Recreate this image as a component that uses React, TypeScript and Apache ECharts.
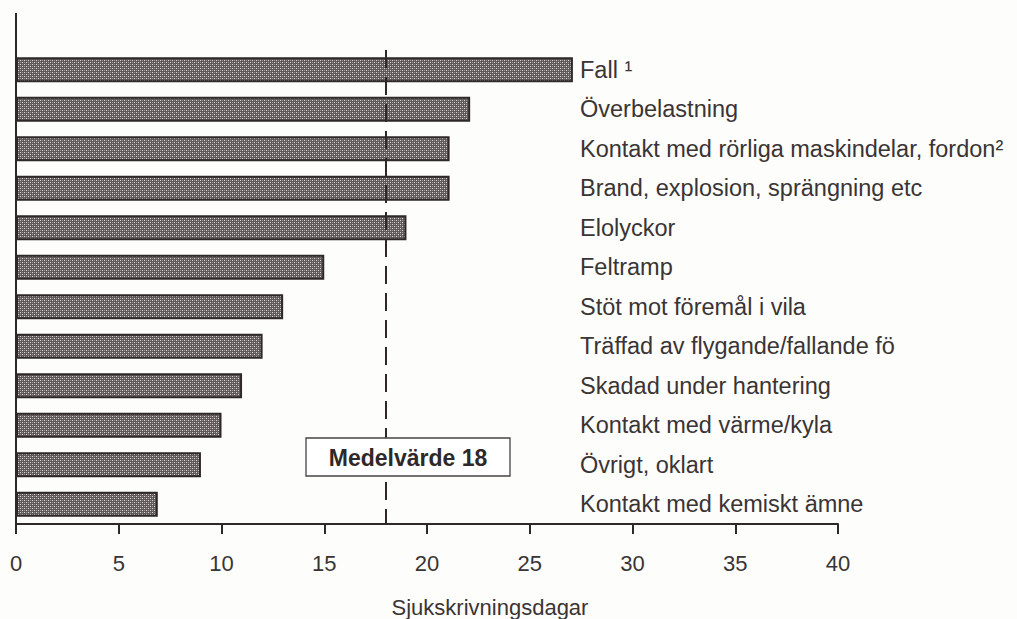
import React, { useEffect, useRef } from "react";
import * as echarts from "echarts";

const categories: string[] = [
  "Fall ¹",
  "Överbelastning",
  "Kontakt med rörliga maskindelar, fordon²",
  "Brand, explosion, sprängning etc",
  "Elolyckor",
  "Feltramp",
  "Stöt mot föremål i vila",
  "Träffad av flygande/fallande fö",
  "Skadad under hantering",
  "Kontakt med värme/kyla",
  "Övrigt, oklart",
  "Kontakt med kemiskt ämne",
];

const sickDays: number[] = [27.1, 22.1, 21.1, 21.1, 19.0, 15.0, 13.0, 12.0, 11.0, 10.0, 9.0, 6.9];

const meanValue = 18;
const xTicks = { min: 0, max: 40, interval: 5 };
const axisTitle = "Sjukskrivningsdagar";
const meanLabel = `Medelvärde ${meanValue}`;

const INK = "#2f2828";
const TEXT = "#3a3434";
const FONT = "'Liberation Sans', Arial, Helvetica, sans-serif";

function makePattern(): HTMLCanvasElement {
  const c = document.createElement("canvas");
  c.width = 4;
  c.height = 4;
  const ctx = c.getContext("2d")!;
  ctx.fillStyle = "#5f5959";
  ctx.fillRect(0, 0, 4, 4);
  ctx.fillStyle = "#dcdada";
  ctx.fillRect(0, 0, 1, 1);
  ctx.fillRect(2, 2, 1, 1);
  ctx.fillStyle = "#9a9696";
  ctx.fillRect(2, 0, 1, 1);
  ctx.fillRect(0, 2, 1, 1);
  return c;
}

export default function App() {
  const ref = useRef<HTMLDivElement>(null);

  useEffect(() => {
    if (!ref.current) return;
    const chart = echarts.init(ref.current, null, { renderer: "svg" });
    const pattern = makePattern();

    chart.setOption({
      animation: false,
      backgroundColor: "#fdfdfc",
      grid: { left: 16, right: 179, top: 50, bottom: 95, containLabel: false },
      xAxis: {
        type: "value",
        min: xTicks.min,
        max: xTicks.max,
        interval: xTicks.interval,
        axisLine: { show: true, lineStyle: { color: INK, width: 2 } },
        axisTick: { show: true, length: 10, lineStyle: { color: INK, width: 2 } },
        splitLine: { show: false },
        axisLabel: { color: TEXT, fontSize: 22, fontFamily: FONT, margin: 28 },
      },
      yAxis: {
        type: "category",
        data: categories,
        inverse: true,
        axisLine: { show: true, lineStyle: { color: INK, width: 2 } },
        axisTick: { show: false },
        splitLine: { show: false },
        axisLabel: {
          inside: true,
          margin: 564,
          align: "left",
          color: TEXT,
          fontSize: 23.5,
          fontFamily: FONT,
        },
      },
      series: [
        {
          type: "bar",
          data: sickDays,
          barWidth: 25,
          itemStyle: {
            color: { image: pattern, repeat: "repeat" },
            borderColor: INK,
            borderWidth: 2,
          },
          markLine: {
            silent: true,
            symbol: "none",
            label: { show: false },
            lineStyle: { color: INK, width: 2, type: [18, 9] },
            data: [{ xAxis: meanValue }],
          },
          z: 2,
        },
      ],
      graphic: [
        {
          type: "line",
          shape: { x1: 16, y1: 13, x2: 16, y2: 51 },
          style: { stroke: INK, lineWidth: 2 },
          z: 5,
        },
        {
          type: "group",
          z: 10,
          children: [
            {
              type: "rect",
              shape: { x: 306, y: 438, width: 204, height: 38 },
              style: { fill: "#ffffff", stroke: "#4a4343", lineWidth: 1.3 },
              z: 10,
            },
            {
              type: "text",
              x: 408,
              y: 458,
              style: {
                text: meanLabel,
                fill: "#2e2828",
                font: `bold 23px ${FONT}`,
                align: "center",
                verticalAlign: "middle",
              },
              z: 11,
            },
          ],
        },
        {
          type: "text",
          x: 490,
          y: 607,
          style: {
            text: axisTitle,
            fill: TEXT,
            font: `22px ${FONT}`,
            align: "center",
            verticalAlign: "middle",
          },
        },
      ],
    });

    return () => chart.dispose();
  }, []);

  return (
    <div
      ref={ref}
      style={{ position: "fixed", left: 0, top: 0, width: 1017, height: 619 }}
    />
  );
}
